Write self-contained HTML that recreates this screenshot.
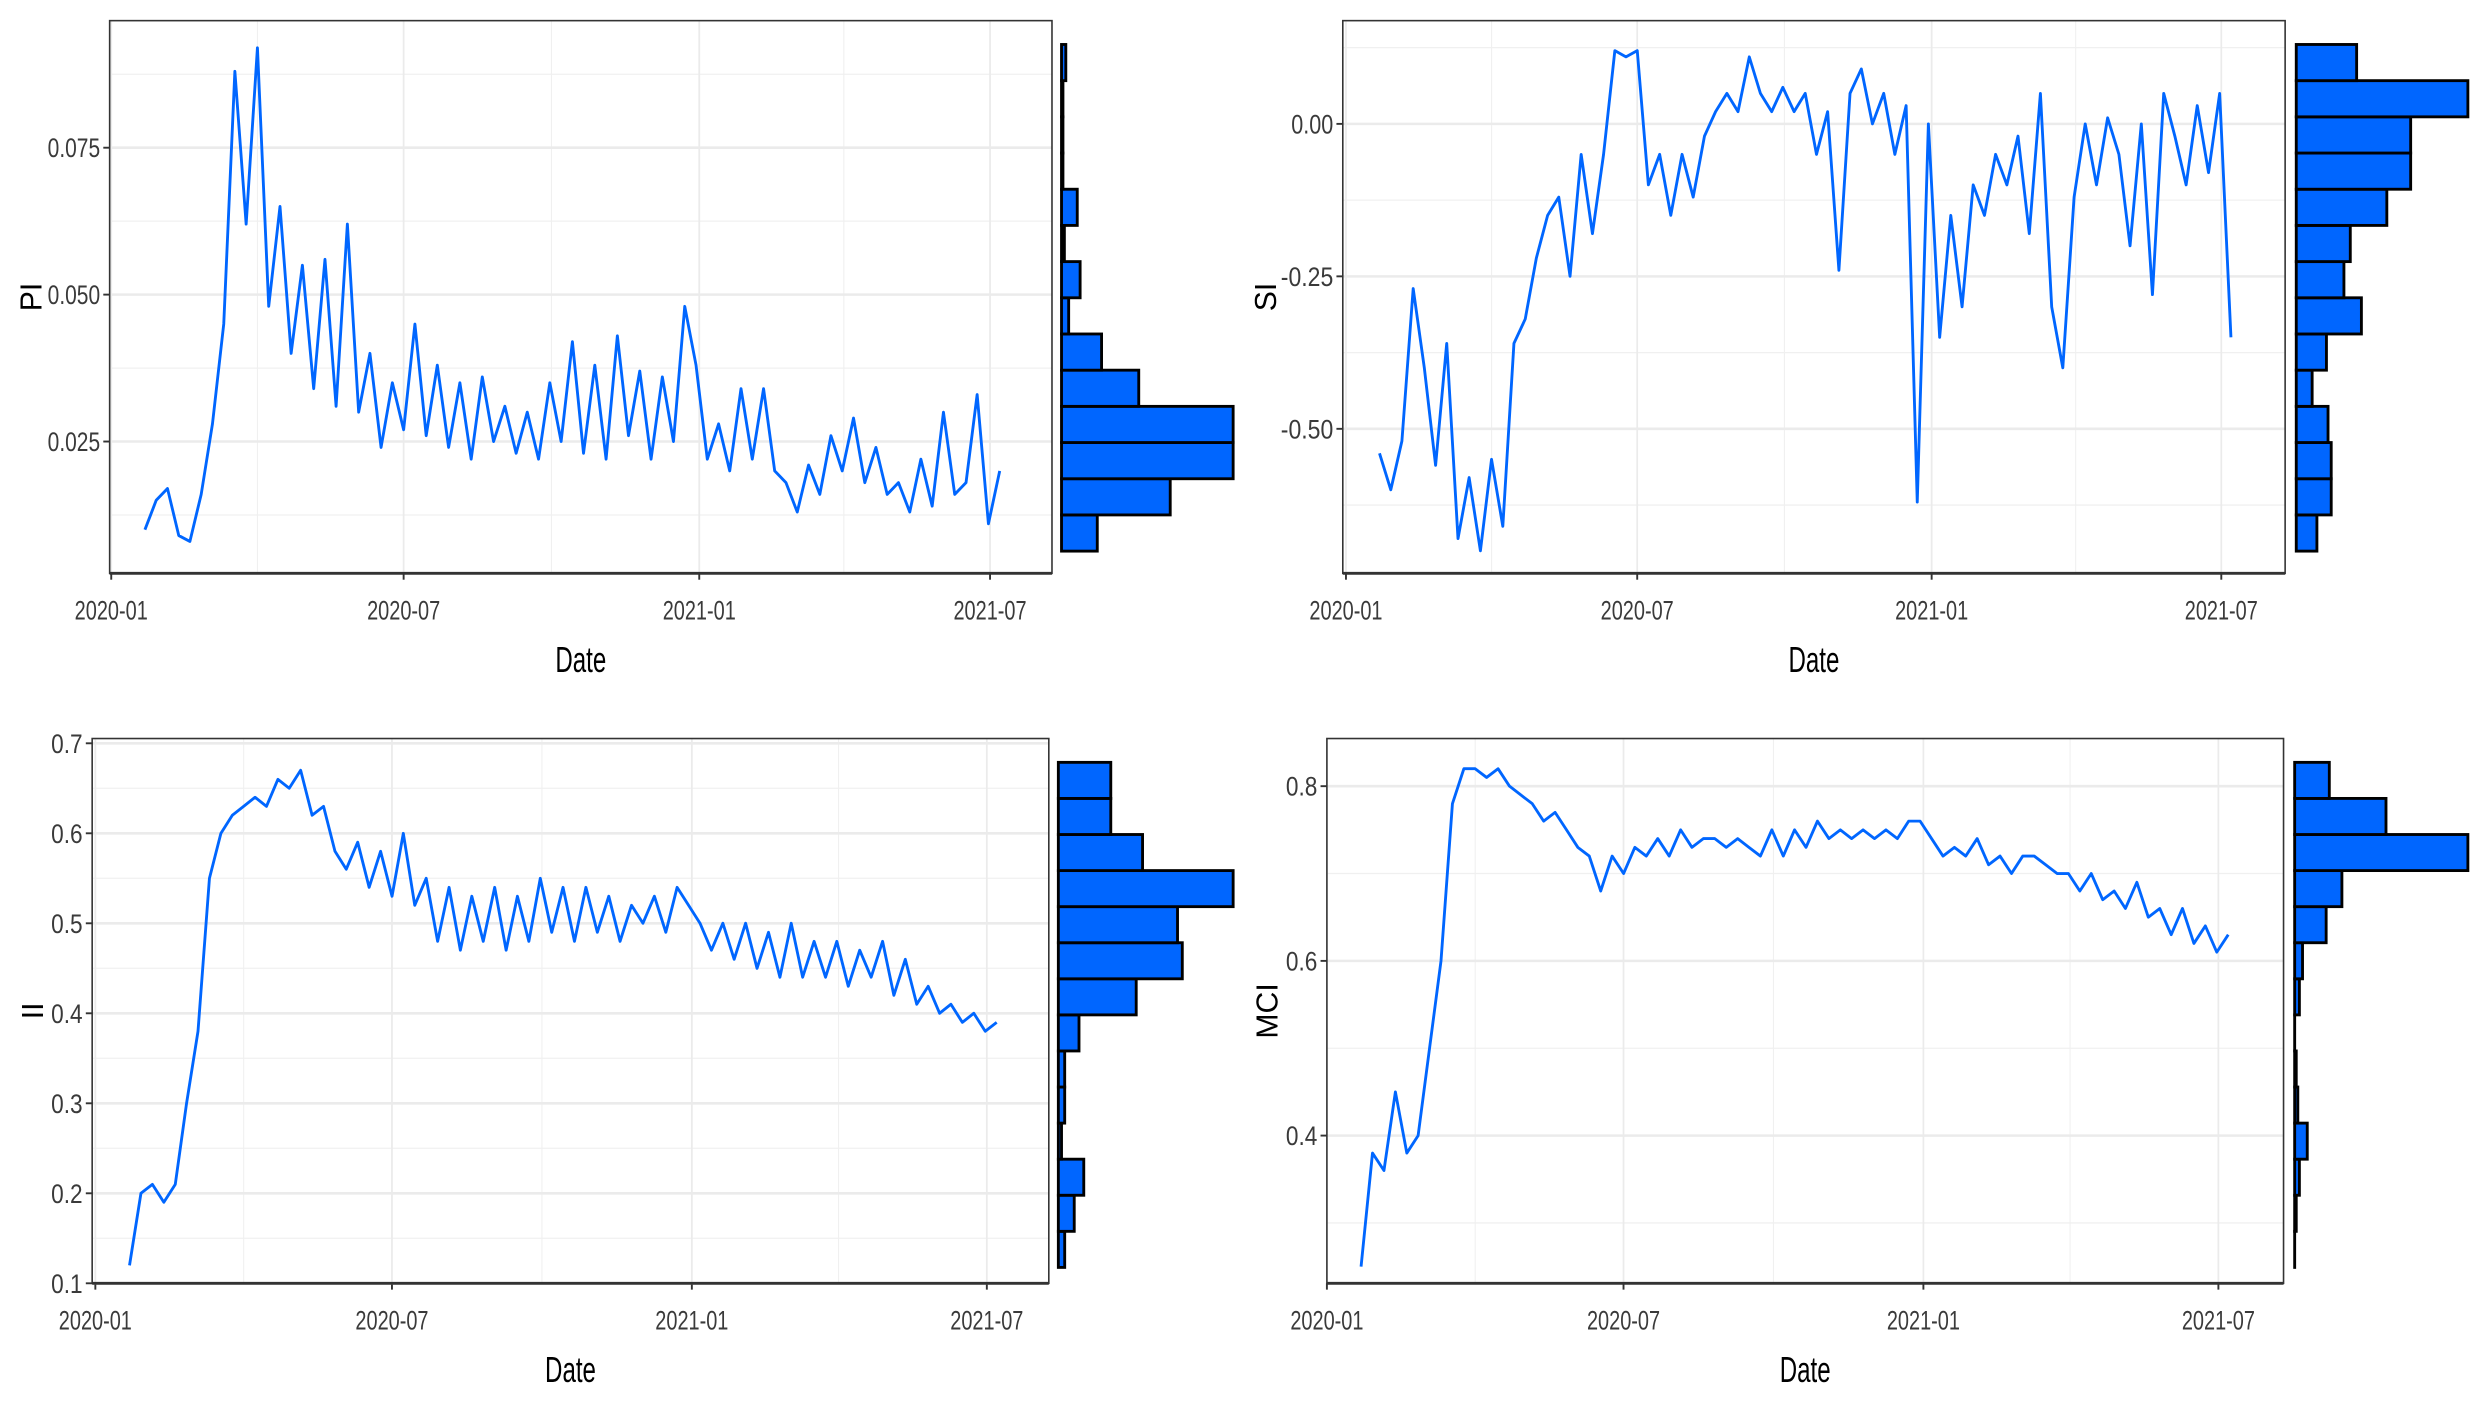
<!DOCTYPE html>
<html><head><meta charset="utf-8">
<style>
html,body{margin:0;padding:0;background:#fff;}
svg{display:block;}
text{font-family:"Liberation Sans",sans-serif;}
</style></head>
<body>
<svg id="fig" width="2479" height="1404" viewBox="0 0 1560 884" preserveAspectRatio="none" xmlns="http://www.w3.org/2000/svg"></svg>
<script>
// ---- data (weekly samples starting 2020-01-22) ----
const startDay = 21;
const stepDays = 7;
const piValues = [.010,.015,.017,.009,.008,.016,.028,.045,.088,.062,
.092,.048,.065,.040,.055,.034,.056,.031,.062,.030,
.040,.024,.035,.027,.045,.026,.038,.024,.035,.022,
.036,.025,.031,.023,.030,.022,.035,.025,.042,.023,
.038,.022,.043,.026,.037,.022,.036,.025,.048,.038,
.022,.028,.020,.034,.022,.034,.020,.018,.013,.021,
.016,.026,.020,.029,.018,.024,.016,.018,.013,.022,
.014,.030,.016,.018,.033,.011,.020];
const siValues = [-0.54,-0.60,-0.52,-0.27,-0.40,-0.56,-0.36,-0.68,-0.58,-0.70,
-0.55,-0.66,-0.36,-0.32,-0.22,-0.15,-0.12,-0.25,-0.05,-0.18,
-0.05,0.12,0.11,0.12,-0.10,-0.05,-0.15,-0.05,-0.12,-0.02,
0.02,0.05,0.02,0.11,0.05,0.02,0.06,0.02,0.05,-0.05,
0.02,-0.24,0.05,0.09,0.00,0.05,-0.05,0.03,-0.62,0.00,
-0.35,-0.15,-0.30,-0.10,-0.15,-0.05,-0.10,-0.02,-0.18,0.05,
-0.30,-0.40,-0.12,0.00,-0.10,0.01,-0.05,-0.20,0.00,-0.28,
0.05,-0.02,-0.10,0.03,-0.08,0.05,-0.35];
const iiValues = [.12,.20,.21,.19,.21,.30,.38,.55,.60,.62,
.63,.64,.63,.66,.65,.67,.62,.63,.58,.56,
.59,.54,.58,.53,.60,.52,.55,.48,.54,.47,
.53,.48,.54,.47,.53,.48,.55,.49,.54,.48,
.54,.49,.53,.48,.52,.50,.53,.49,.54,.52,
.50,.47,.50,.46,.50,.45,.49,.44,.50,.44,
.48,.44,.48,.43,.47,.44,.48,.42,.46,.41,
.43,.40,.41,.39,.40,.38,.39];
const mciValues = [.25,.38,.36,.45,.38,.40,.50,.60,.78,.82,
.82,.81,.82,.80,.79,.78,.76,.77,.75,.73,
.72,.68,.72,.70,.73,.72,.74,.72,.75,.73,
.74,.74,.73,.74,.73,.72,.75,.72,.75,.73,
.76,.74,.75,.74,.75,.74,.75,.74,.76,.76,
.74,.72,.73,.72,.74,.71,.72,.70,.72,.72,
.71,.70,.70,.68,.70,.67,.68,.66,.69,.65,
.66,.63,.66,.62,.64,.61,.63];
// histogram counts, bottom bin to top bin
const piHist = [25,76,120,120,54,28,5,13,2,11,1,1,1,3];
const siHist = [13,22,22,20,10,19,41,30,34,57,72,72,108,38];
const iiHist = [4,10,16,2,4,4,13,49,78,75,110,53,33,33];
const mciHist = [0,1,3,8,2,1,0,3,5,20,30,110,58,22];
const dateTicks = [0,182,366,547];
const dateLabels = ["2020-01","2020-07","2021-01","2021-07"];
const piTicks=[0.025,0.050,0.075], piLabels=["0.025","0.050","0.075"];
const siTicks=[-0.50,-0.25,0.00], siLabels=["-0.50","-0.25","0.00"];
const iiTicks=[0.1,0.2,0.3,0.4,0.5,0.6,0.7], iiLabels=["0.1","0.2","0.3","0.4","0.5","0.6","0.7"];
const mciTicks=[0.4,0.6,0.8], mciLabels=["0.4","0.6","0.8"];

const NS="http://www.w3.org/2000/svg";
const svg=document.getElementById('fig');
function mk(tag,attrs,parent){const e=document.createElementNS(NS,tag);for(const k in attrs)e.setAttribute(k,attrs[k]);(parent||svg).appendChild(e);return e;}

function panel(cfg){
  const g=mk('g',{});
  
  
  const X=d=>cfg.x0+cfg.kx*d;
  const Y=v=>cfg.yA+(v-cfg.vA)*(cfg.yB-cfg.yA)/(cfg.vB-cfg.vA);
  mk('rect',{x:cfg.L,y:cfg.T,width:cfg.R-cfg.L,height:cfg.B-cfg.T,fill:'#fff'},g);
  const minorX=[91,274,456,638];
  minorX.forEach(d=>{const x=X(d);if(x>cfg.L&&x<cfg.R)mk('line',{x1:x,x2:x,y1:cfg.T,y2:cfg.B,stroke:'#f0f0f0','stroke-width':0.7},g);});
  const st=cfg.ticks[1]-cfg.ticks[0];
  for(let v=cfg.ticks[0]-st*1.5;v<cfg.ticks[cfg.ticks.length-1]+st*2;v+=st){const y=Y(v);if(y>cfg.T&&y<cfg.B)mk('line',{x1:cfg.L,x2:cfg.R,y1:y,y2:y,stroke:'#f0f0f0','stroke-width':0.8},g);}
  dateTicks.forEach((d,i)=>{const x=X(d);
    const gl=mk('line',{x1:x,x2:x,y1:cfg.T,y2:cfg.B,stroke:'#ebebeb','stroke-width':1.1},g);
    
    mk('line',{x1:x,x2:x,y1:cfg.B,y2:cfg.B+4,stroke:'#333','stroke-width':1.2},g);
    const t=mk('text',{x:x,y:cfg.B+29,'text-anchor':'middle','font-size':17,fill:'#3a3a3a',textLength:46,lengthAdjust:'spacingAndGlyphs'},g);
    t.textContent=dateLabels[i];
    
  });
  cfg.ticks.forEach((v,i)=>{const y=Y(v);
    const gl=mk('line',{x1:cfg.L,x2:cfg.R,y1:y,y2:y,stroke:'#ebebeb','stroke-width':1.6},g);
    
    mk('line',{x1:cfg.L-4,x2:cfg.L,y1:y,y2:y,stroke:'#333','stroke-width':1.2},g);
    const lab=cfg.labels[i];
    const t=mk('text',{x:cfg.L-6,y:y+6,'text-anchor':'end','font-size':17,fill:'#3a3a3a',textLength:lab.length*6.6,lengthAdjust:'spacingAndGlyphs'},g);
    t.textContent=lab;
    
  });
  const pts=cfg.values.map((v,i)=>X(startDay+i*stepDays).toFixed(1)+','+Y(v).toFixed(1)).join(' ');
  const pl=mk('polyline',{points:pts,fill:'none',stroke:'#0066ff','stroke-width':1.8,'stroke-linejoin':'round'},g);
  
  mk('rect',{x:cfg.L,y:cfg.T,width:cfg.R-cfg.L,height:cfg.B-cfg.T,fill:'none',stroke:'#333','stroke-width':1},g);
  mk('line',{x1:cfg.L,x2:cfg.R,y1:cfg.B,y2:cfg.B,stroke:'#333','stroke-width':1.8},g);
  const xt=mk('text',{x:(cfg.L+cfg.R)/2,y:cfg.B+62,'text-anchor':'middle','font-size':23,fill:'#000',textLength:32,lengthAdjust:'spacingAndGlyphs'},g);
  xt.textContent='Date';
  const yc=(cfg.T+cfg.B)/2;
  const yt=mk('text',{x:cfg.ylx,y:yc,'text-anchor':'middle','font-size':19,fill:'#000',transform:'rotate(-90 '+cfg.ylx+' '+yc+')'},g);
  yt.textContent=cfg.title;
  const hg=mk('g',{},g);
  
  const n=cfg.hist.length, bh=(cfg.hB-cfg.hT)/n;
  cfg.hist.forEach((c,i)=>{const w=c/cfg.hMax*cfg.hW;
    const r=mk('rect',{x:cfg.hL,y:cfg.hB-(i+1)*bh,width:Math.max(w,0.01),height:bh,fill:'#0066ff',stroke:'#000','stroke-width':1.8},hg);
    
  });
}
panel({name:'pi',title:'PI',L:69,R:662,T:13,B:361,x0:70,kx:1.011,yA:278,vA:0.025,yB:93,vB:0.075,ticks:piTicks,labels:piLabels,values:piValues,ylx:26,hist:piHist,hL:668,hT:28,hB:347,hMax:120,hW:108});
panel({name:'si',title:'SI',L:845,R:1438,T:13,B:361,x0:847,kx:1.007,yA:270,vA:-0.5,yB:78,vB:0.0,ticks:siTicks,labels:siLabels,values:siValues,ylx:803,hist:siHist,hL:1445,hT:28,hB:347,hMax:108,hW:108});
panel({name:'ii',title:'II',L:58,R:660,T:465,B:808,x0:60,kx:1.0256,yA:808,vA:0.1,yB:468,vB:0.7,ticks:iiTicks,labels:iiLabels,values:iiValues,ylx:27,hist:iiHist,hL:666,hT:480,hB:798,hMax:110,hW:110});
panel({name:'mci',title:'MCI',L:835,R:1437,T:465,B:808,x0:835,kx:1.0256,yA:715,vA:0.4,yB:495,vB:0.8,ticks:mciTicks,labels:mciLabels,values:mciValues,ylx:804,hist:mciHist,hL:1444,hT:480,hB:798,hMax:110,hW:109});
</script>
</body></html>
